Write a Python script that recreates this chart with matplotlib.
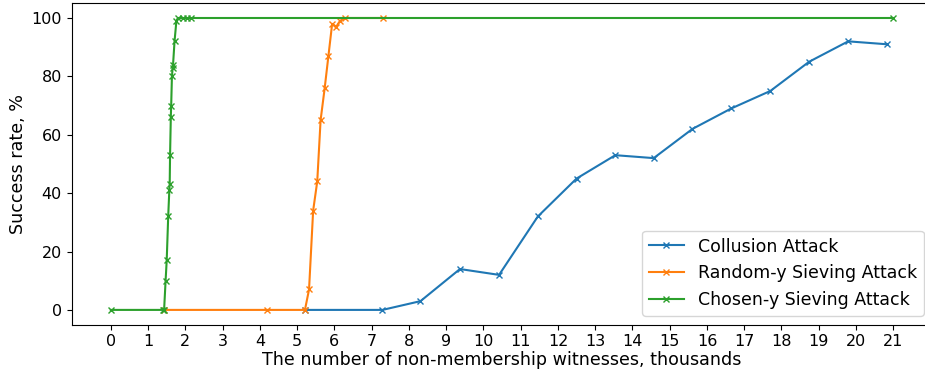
import matplotlib.pyplot as plt

# success rate (%) vs number of non-membership witnesses (thousands)
collusion_x = [5.21, 7.29, 8.31, 9.37, 10.42, 11.46, 12.5, 13.54, 14.57, 15.61, 16.65, 17.7, 18.74, 19.79, 20.83]
collusion_y = [0, 0, 3, 14, 12, 32, 45, 53, 52, 62, 69, 75, 85, 92, 91]

random_x = [1.43, 4.18, 5.21, 5.32, 5.43, 5.54, 5.63, 5.74, 5.84, 5.94, 6.05, 6.15, 6.28, 7.31]
random_y = [0, 0, 0, 7, 34, 44, 65, 76, 87, 98, 97, 99, 100, 100]

chosen_x = [0, 1.41, 1.43, 1.47, 1.50, 1.54, 1.57, 1.58, 1.59, 1.61, 1.62, 1.64, 1.66, 1.67,
            1.71, 1.76, 1.80, 1.94, 2.05, 2.15, 21.0]
chosen_y = [0, 0, 0, 10, 17, 32, 41, 43, 53, 66, 70, 80, 83, 84,
            92, 99, 100, 100, 100, 100, 100]

labels = ["Collusion Attack", "Random-y Sieving Attack", "Chosen-y Sieving Attack"]

plt.rcParams['xtick.labelsize'] = 11.5
plt.rcParams['ytick.labelsize'] = 11.5

fig = plt.figure(figsize=(9.25, 3.71), dpi=100)
# axes run slightly past the right edge, like the cropped original
ax = fig.add_axes([71.7 / 925, 46.5 / 371, (932.4 - 71.7) / 925, (367.6 - 46.5) / 371])

ax.plot(collusion_x, collusion_y, marker='x', markersize=5, label=labels[0])
ax.plot(random_x, random_y, marker='x', markersize=5, label=labels[1])
ax.plot(chosen_x, chosen_y, marker='x', markersize=5, label=labels[2])

ax.set_xticks(range(0, 22))
ax.set_xlabel("The number of non-membership witnesses, thousands", fontsize=12.6, labelpad=1.5)
ax.set_ylabel("Success rate, %", fontsize=12.6, labelpad=3)
ax.legend(loc='lower right', fontsize=12.5)

fig.savefig("out.png", dpi=100)
